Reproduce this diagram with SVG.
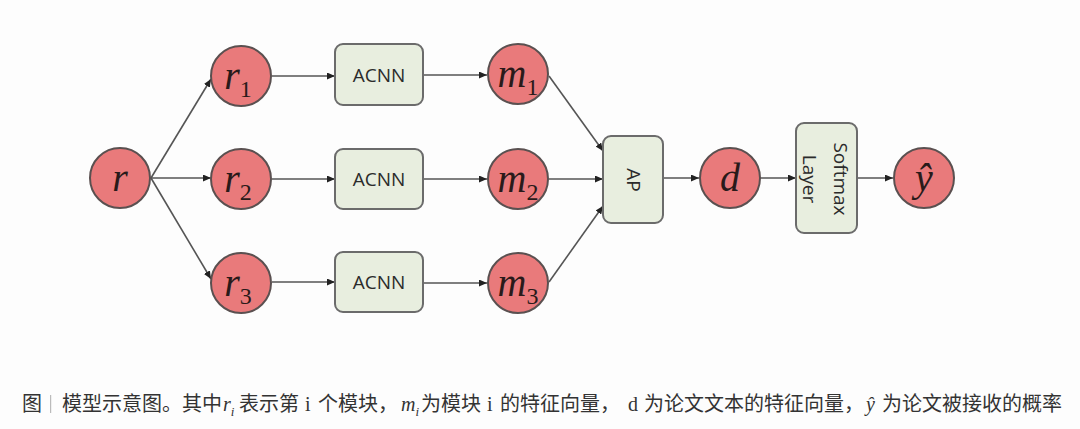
<svg xmlns="http://www.w3.org/2000/svg" width="1080" height="429" viewBox="0 0 1080 429">
<style>
.node circle{fill:#E97A7B;stroke:#5a5050;stroke-width:2}
.box rect{fill:#E8EEDF;stroke:#6b6b6b;stroke-width:2}
.math{font-family:'Liberation Serif','DejaVu Serif',serif;font-style:italic;fill:#2a1a1a}
.lbl{font-family:'Open Sans','Liberation Sans',sans-serif;font-size:19px;fill:#2b2b2b}
.conn line{stroke:#555;stroke-width:1.6;marker-end:url(#ah)}
.cap{font-family:'Liberation Serif','Noto Sans CJK SC',serif;font-size:20px;fill:#333}
.capm{font-family:'Liberation Serif','DejaVu Serif',serif;font-style:italic;font-size:20px;fill:#333}
</style>
<defs>
<marker id="ah" markerUnits="userSpaceOnUse" markerWidth="8" markerHeight="7" refX="8" refY="3.5" orient="auto">
<path d="M0,0 L8,3.5 L0,7 z" fill="#222"/>
</marker>
</defs>
<rect width="1080" height="429" fill="#fdfdfd"/>
<g id="connectors" class="conn">
<line x1="151" y1="178" x2="211" y2="79"/>
<line x1="151" y1="178" x2="211" y2="178"/>
<line x1="151" y1="178" x2="211" y2="279"/>
<line x1="272" y1="76" x2="335" y2="76"/>
<line x1="272" y1="179" x2="335" y2="179"/>
<line x1="272" y1="282" x2="335" y2="282"/>
<line x1="423" y1="75" x2="487" y2="75"/>
<line x1="423" y1="179" x2="487" y2="179"/>
<line x1="423" y1="283" x2="487" y2="283"/>
<line x1="549" y1="76" x2="603" y2="151"/>
<line x1="549" y1="179" x2="603" y2="179"/>
<line x1="549" y1="282" x2="603" y2="206"/>
<line x1="663" y1="178" x2="699" y2="178"/>
<line x1="760" y1="178" x2="796" y2="178"/>
<line x1="857" y1="178" x2="893" y2="178"/>
</g>
<g id="r" class="node"><circle cx="120" cy="178" r="30"/><text class="math" x="120" y="191" font-size="40" text-anchor="middle">r</text></g>
<g id="r1" class="node"><circle cx="241" cy="76" r="30"/><text class="math" x="238" y="89" font-size="40" text-anchor="middle">r<tspan font-size="24" font-style="normal" dy="8">1</tspan></text></g>
<g id="r2" class="node"><circle cx="241" cy="179" r="30"/><text class="math" x="238" y="192" font-size="40" text-anchor="middle">r<tspan font-size="24" font-style="normal" dy="8">2</tspan></text></g>
<g id="r3" class="node"><circle cx="241" cy="283" r="30"/><text class="math" x="238" y="296" font-size="40" text-anchor="middle">r<tspan font-size="24" font-style="normal" dy="8">3</tspan></text></g>
<g id="acnn1" class="box"><rect x="335" y="44" width="88" height="61" rx="8"/><text class="lbl" x="379" y="82" text-anchor="middle">ACNN</text></g>
<g id="acnn2" class="box"><rect x="335" y="149" width="88" height="60" rx="8"/><text class="lbl" x="379" y="186" text-anchor="middle">ACNN</text></g>
<g id="acnn3" class="box"><rect x="335" y="252" width="88" height="60" rx="8"/><text class="lbl" x="379" y="289" text-anchor="middle">ACNN</text></g>
<g id="m1" class="node"><circle cx="518" cy="74" r="30"/><text class="math" x="518" y="87" font-size="40" text-anchor="middle">m<tspan font-size="24" font-style="normal" dy="8">1</tspan></text></g>
<g id="m2" class="node"><circle cx="518" cy="179" r="30"/><text class="math" x="518" y="192" font-size="40" text-anchor="middle">m<tspan font-size="24" font-style="normal" dy="8">2</tspan></text></g>
<g id="m3" class="node"><circle cx="518" cy="283" r="30"/><text class="math" x="518" y="296" font-size="40" text-anchor="middle">m<tspan font-size="24" font-style="normal" dy="8">3</tspan></text></g>
<g id="ap" class="box"><rect x="603" y="136" width="60" height="87" rx="8"/><text class="lbl" transform="translate(627,180) rotate(90)" text-anchor="middle">AP</text></g>
<g id="d" class="node"><circle cx="730" cy="178" r="30"/><text class="math" x="730" y="191" font-size="40" text-anchor="middle">d</text></g>
<g id="softmax" class="box"><rect x="796" y="123" width="61" height="110" rx="8"/><text class="lbl" transform="translate(834,179) rotate(90)" text-anchor="middle">Softmax</text><text class="lbl" transform="translate(803,179) rotate(90)" text-anchor="middle">Layer</text></g>
<g id="yhat" class="node"><circle cx="924" cy="178" r="30"/><text class="math" x="924" y="191" font-size="40" text-anchor="middle">ŷ</text></g>
<g id="caption">
<text class="cap" x="22" y="411">图</text>
<rect x="50" y="395" width="1.2" height="18" fill="#bbb"/>
<text class="cap" x="62" y="411">模型示意图。其中</text>
<text class="capm" x="223" y="411">r<tspan font-size="13" dy="5">i</tspan></text>
<text class="cap" x="239" y="411">表示第</text>
<text class="cap" x="305" y="411">i</text>
<text class="cap" x="318" y="411">个模块，</text>
<text class="capm" x="401" y="411">m<tspan font-size="13" dy="5">i</tspan></text>
<text class="cap" x="421" y="411">为模块</text>
<text class="cap" x="487" y="411">i</text>
<text class="cap" x="500" y="411">的特征向量，</text>
<text class="cap" x="628" y="411">d</text>
<text class="cap" x="644" y="411">为论文文本的特征向量，</text>
<text class="capm" x="866" y="411">ŷ</text>
<text class="cap" x="882" y="411">为论文被接收的概率</text>
</g>
</svg>
